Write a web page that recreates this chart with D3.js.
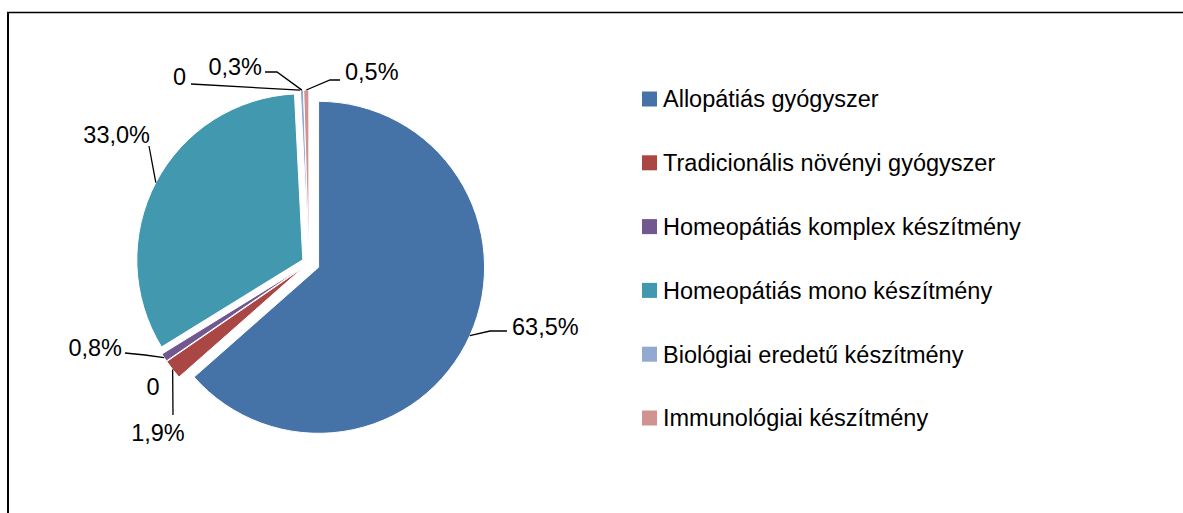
<!DOCTYPE html>
<html lang="hu">
  <head>
    <meta charset="utf-8">
    <script src="https://d3js.org/d3.v7.min.js"></script>
    <style>
      body { margin: 0; background: #fff; }
      text { font-family: "Liberation Sans", Arial, sans-serif; fill: #000; }
    </style>
  </head>
<body>
  <div id="chart"></div>
  <script>
    // plot setup
    var width = 1183;
    var height = 513;
    var fontSize = 23.5;

    // data (clockwise from 12 o'clock, as in the workbook)
    var names = ["Allopátiás gyógyszer", "Tradicionális növényi gyógyszer", null,
                 "Homeopátiás komplex készítmény", "Homeopátiás mono készítmény", null,
                 "Biológiai eredetű készítmény", "Immunológiai készítmény"];
    var values = [63.5, 1.9, 0, 0.8, 33.0, 0, 0.3, 0.5];
    var colors = ["#4572A7", "#AA4643", "#89A54E", "#71588F",
                  "#4198AF", "#DB843D", "#93A9CF", "#D19392"];

    // pie geometry
    var cx = 309, cy = 263, radius = 166;
    var explode = [10.5, 7, 7, 7, 7, 7, 7, 7];

    // label placement (text point, anchor, leader bends)
    var labelLayout = [
      {x: 512, y: 327, anchor: "start",  path: [[490, 331], [507, 331]]},
      {x: 158, y: 433, anchor: "middle", path: [[173, 415]]},
      {x: 153, y: 387, anchor: "middle", path: null},
      {x: 122, y: 348, anchor: "end",    path: [[145, 355], [125, 353]]},
      {x: 150, y: 135, anchor: "end",    path: [[149, 146]]},
      {x: 186, y: 77,  anchor: "end",    path: [[191, 84]]},
      {x: 262, y: 67,  anchor: "end",    path: [[277, 72], [265, 72]]},
      {x: 345, y: 72,  anchor: "start",  path: [[330, 80], [340, 80]]}
    ];

    var svg = d3.select("#chart")
                .append("svg")
                .attr("width", width)
                .attr("height", height);

    // frame of the chart area
    svg.append("line")
        .attr("x1", 8).attr("y1", 12).attr("x2", 8).attr("y2", height)
        .attr("stroke", "#000").attr("stroke-width", 2);
    svg.append("line")
        .attr("x1", 7).attr("y1", 12.5).attr("x2", width).attr("y2", 12.5)
        .attr("stroke", "#000").attr("stroke-width", 1.5);

    var pie = d3.pie().sort(null).value(function(d) { return d; });
    var arcs = pie(values);
    var arc = d3.arc().innerRadius(0).outerRadius(radius);

    function offset(d, i) {
      var a = (d.startAngle + d.endAngle) / 2;
      return [cx + explode[i] * Math.sin(a), cy - explode[i] * Math.cos(a)];
    }

    function edgePoint(d, i) {
      var a = (d.startAngle + d.endAngle) / 2;
      var o = offset(d, i);
      return [o[0] + radius * Math.sin(a), o[1] - radius * Math.cos(a)];
    }

    // slices
    svg.append("g")
        .selectAll("path")
        .data(arcs)
        .enter()
        .filter(function(d) { return d.value > 0; })
        .append("path")
        .attr("transform", function(d) {
          var o = offset(d, d.index);
          return "translate(" + o[0] + "," + o[1] + ")";
        })
        .attr("d", arc)
        .attr("fill", function(d) { return colors[d.index]; })
        .attr("stroke", "#fff")
        .attr("stroke-width", 1);

    // leader lines
    svg.append("g")
        .selectAll("path")
        .data(arcs.filter(function(d) { return labelLayout[d.index].path; }))
        .enter()
        .append("path")
        .attr("d", function(d) {
          var pts = [edgePoint(d, d.index)].concat(labelLayout[d.index].path);
          return d3.line()(pts);
        })
        .attr("fill", "none")
        .attr("stroke", "#000")
        .attr("stroke-width", 1.3);

    // data labels
    svg.append("g")
        .selectAll("text")
        .data(arcs)
        .enter()
        .append("text")
        .attr("x", function(d) { return labelLayout[d.index].x; })
        .attr("y", function(d) { return labelLayout[d.index].y; })
        .attr("dy", "0.36em")
        .attr("text-anchor", function(d) { return labelLayout[d.index].anchor; })
        .style("font-size", fontSize + "px")
        .text(function(d) {
          return d.value === 0 ? "0" : d.value.toFixed(1).replace(".", ",") + "%";
        });

    // legend (zero series are not listed)
    var legendItems = names
        .map(function(n, i) { return {name: n, color: colors[i]}; })
        .filter(function(d) { return d.name; });

    var legendY = d3.scalePoint()
        .domain(legendItems.map(function(d) { return d.name; }))
        .range([99, 418]);

    var legend = svg.append("g")
        .selectAll("g")
        .data(legendItems)
        .enter()
        .append("g")
        .attr("transform", function(d) { return "translate(642," + legendY(d.name) + ")"; });

    legend.append("rect")
        .attr("x", 0).attr("y", -7.5)
        .attr("width", 15).attr("height", 15)
        .attr("fill", function(d) { return d.color; });

    legend.append("text")
        .attr("x", 21)
        .attr("dy", "0.36em")
        .style("font-size", fontSize + "px")
        .text(function(d) { return d.name; });
  </script>
</body>
</html>
